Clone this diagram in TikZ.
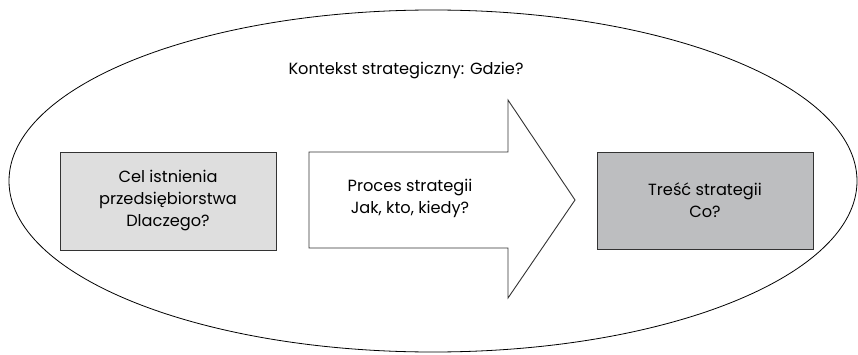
\documentclass[tikz,border=0pt]{standalone}
\usepackage{fontspec}
\setmainfont{Poppins}
\begin{document}
\begin{tikzpicture}[x=1pt,y=1pt,
  txt/.style={font=\fontsize{16.2}{22}\selectfont, align=center, inner sep=0pt},
  boxa/.style={draw=black!80, line width=0.9pt, fill=lightbox, minimum width=216pt, minimum height=98pt, txt},
  boxb/.style={draw=black!80, line width=0.9pt, fill=darkbox, minimum width=216pt, minimum height=97pt, txt},
  outline/.style={draw=black, line width=0.8pt}]
\definecolor{lightbox}{HTML}{DEDEDE}
\definecolor{darkbox}{HTML}{BDBEC0}
\useasboundingbox (0,0) rectangle (858,354);
\draw[outline] (433,173) ellipse [x radius=424, y radius=171];
\node[txt] (ctx) at (406,283) {Kontekst strategiczny: Gdzie?};
\node[boxa] (cel) at (168,153) {Cel istnienia\\przedsiębiorstwa\\Dlaczego?};
\coordinate (a1) at (309,106);
\coordinate (a2) at (309,202);
\coordinate (a3) at (508,202);
\coordinate (a4) at (508,254);
\coordinate (a5) at (575,154);
\coordinate (a6) at (508,56);
\coordinate (a7) at (508,106);
\draw[draw=black!80, line width=0.9pt, fill=white, line join=miter] (a1) -- (a2) -- (a3) -- (a4) -- (a5) -- (a6) -- (a7) -- cycle;
\node[txt] (proc) at (410,156) {Proces strategii\\Jak, kto, kiedy?};
\node[boxb] (tresc) at (705,153.5) {Treść strategii\\Co?};
\end{tikzpicture}
\end{document}
